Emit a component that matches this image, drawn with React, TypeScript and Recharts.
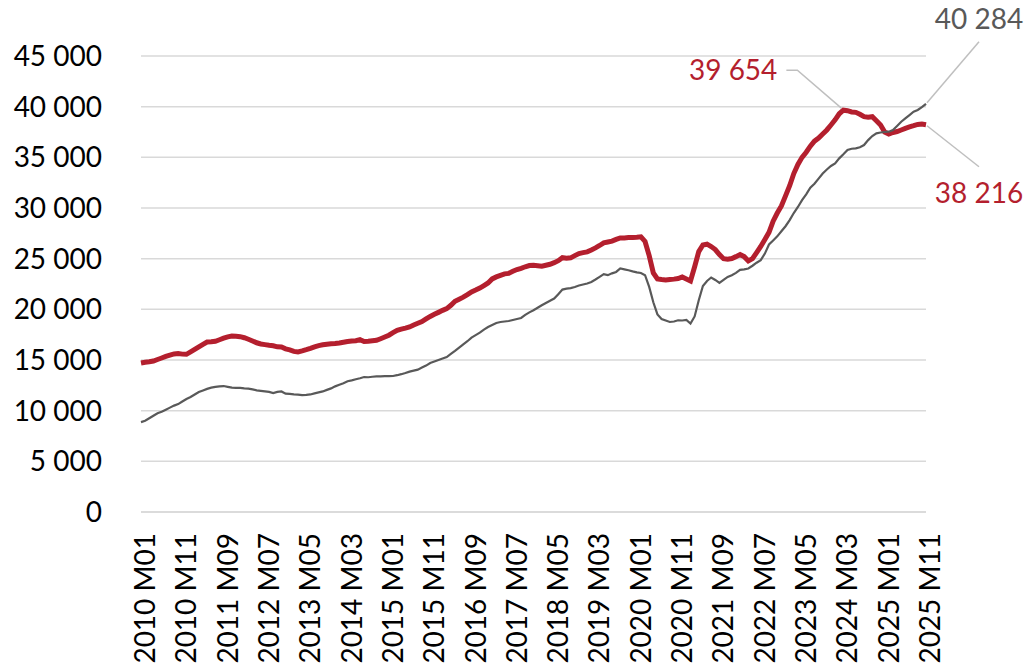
import { CartesianGrid, Line, LineChart, XAxis, YAxis } from "recharts";

// Monthly series, 2010 M01 .. 2025 M11 (191 points).
const START_YEAR = 2010;

// thick red series
const RED_SERIES = [
  // 2010
  14700, 14780, 14820, 14900, 15050, 15200, 15360, 15480, 15600, 15630, 15580, 15560,
  // 2011
  15800, 16050, 16300, 16550, 16780, 16800, 16850, 17000, 17150, 17280, 17370, 17350,
  // 2012
  17300, 17200, 17050, 16880, 16700, 16580, 16520, 16450, 16400, 16300, 16280, 16100,
  // 2013
  16000, 15850, 15790, 15900, 16020, 16150, 16300, 16420, 16500, 16560, 16600, 16620,
  // 2014
  16680, 16750, 16820, 16880, 16900, 17010, 16820, 16850, 16900, 16940, 17100, 17270,
  // 2015
  17450, 17700, 17930, 18050, 18150, 18260, 18450, 18620, 18790, 19050, 19300, 19510,
  // 2016
  19700, 19900, 20070, 20400, 20800, 21000, 21200, 21450, 21720, 21900, 22100, 22350,
  // 2017
  22600, 23000, 23200, 23350, 23500, 23550, 23750, 23930, 24050, 24200, 24320, 24350,
  // 2018
  24300, 24250, 24350, 24450, 24600, 24800, 25100, 25050, 25080, 25300, 25510, 25600,
  // 2019
  25670, 25850, 26060, 26300, 26560, 26650, 26730, 26900, 27050, 27050, 27090, 27100,
  // 2020
  27120, 27150, 26700, 25300, 23600, 23000, 22940, 22900, 22950, 22980, 23040, 23200,
  // 2021
  23000, 22800, 24200, 25700, 26350, 26430, 26200, 25900, 25400, 25000, 24950, 25020,
  // 2022
  25200, 25400, 25200, 24780, 25000, 25600, 26200, 26900, 27600, 28700, 29500, 30200,
  // 2023
  31200, 32200, 33400, 34300, 35000, 35500, 36100, 36600, 36900, 37300, 37700, 38190,
  // 2024
  38700, 39300, 39654, 39600, 39480, 39440, 39250, 39010, 38950, 39010, 38600, 38190,
  // 2025
  37500, 37300, 37450, 37550, 37700, 37860, 38000, 38120, 38250, 38290, 38216,
];

// thin gray series
const GRAY_SERIES = [
  // 2010
  8870, 9000, 9250, 9500, 9750, 9900, 10100, 10300, 10500, 10650, 10900, 11150,
  // 2011
  11350, 11600, 11840, 12000, 12150, 12270, 12350, 12400, 12430, 12350, 12270, 12250,
  // 2012
  12250, 12200, 12170, 12100, 12000, 11950, 11900, 11850, 11740, 11850, 11900, 11680,
  // 2013
  11650, 11600, 11580, 11540, 11550, 11600, 11700, 11800, 11900, 12050, 12200, 12400,
  // 2014
  12550, 12700, 12900, 12990, 13100, 13200, 13320, 13300, 13350, 13390, 13380, 13400,
  // 2015
  13400, 13420, 13500, 13600, 13710, 13850, 13950, 14050, 14250, 14450, 14700, 14850,
  // 2016
  15000, 15150, 15290, 15600, 15900, 16220, 16550, 16850, 17210, 17450, 17700, 18000,
  // 2017
  18250, 18450, 18650, 18750, 18800, 18850, 18950, 19050, 19150, 19450, 19700, 19910,
  // 2018
  20150, 20400, 20630, 20850, 21060, 21500, 21950, 22050, 22100, 22210, 22350, 22450,
  // 2019
  22550, 22700, 22940, 23200, 23470, 23370, 23550, 23690, 24030, 23950, 23860, 23750,
  // 2020
  23650, 23590, 23370, 22210, 20700, 19500, 19050, 18900, 18750, 18800, 18920, 18900,
  // 2021
  18950, 18590, 19300, 20900, 22300, 22800, 23140, 22900, 22600, 22900, 23200, 23370,
  // 2022
  23600, 23900, 23950, 24030, 24300, 24600, 24850, 25500, 26400, 26800, 27200, 27700,
  // 2023
  28200, 28800, 29500, 30100, 30780, 31350, 32000, 32400, 32900, 33410, 33800, 34150,
  // 2024
  34400, 34900, 35300, 35720, 35850, 35880, 36000, 36210, 36700, 37100, 37370, 37450,
  // 2025
  37500, 37530, 37690, 38100, 38510, 38850, 39170, 39500, 39670, 39950, 40284,
];

const Y_TICKS = [0, 5000, 10000, 15000, 20000, 25000, 30000, 35000, 40000, 45000];

const RED = "#b41f2e";
const GRAY = "#595959";
const LEADER = "#bfbfbf";
const FONT = "Lato, 'Open Sans', sans-serif";

const MONTHS = RED_SERIES.map(
  (_, i) => `${START_YEAR + Math.floor(i / 12)} M${String((i % 12) + 1).padStart(2, "0")}`,
);

const data = MONTHS.map((month, i) => ({
  month,
  red: RED_SERIES[i],
  gray: GRAY_SERIES[i],
}));

const PEAK_IDX = RED_SERIES.indexOf(Math.max(...RED_SERIES));
const LAST_IDX = RED_SERIES.length - 1;

// "45 000" style thousands separator
const fmt = (v: number) => v.toLocaleString("en-US").replace(/,/g, " ");

function MonthTick({ x, y, payload }: any) {
  return (
    <text
      x={x}
      y={y}
      transform={`rotate(-90, ${x}, ${y})`}
      textAnchor="end"
      dy="0.5em"
      fontSize={28}
      fontFamily={FONT}
      fill="#000"
    >
      {payload.value}
    </text>
  );
}

function RedNotes(props: any) {
  const { cx, cy, index } = props;
  if (index === PEAK_IDX) {
    return (
      <g key={`r-${index}`}>
        <polyline
          points={`${cx - 57},${cy - 40} ${cx - 46},${cy - 40} ${cx - 2},${cy - 2}`}
          fill="none"
          stroke={LEADER}
          strokeWidth={1.5}
        />
        <text x={cx - 66} y={cy - 30} textAnchor="end" fontSize={28} fontFamily={FONT} fill={RED}>
          {fmt(RED_SERIES[index])}
        </text>
      </g>
    );
  }
  if (index === LAST_IDX) {
    return (
      <g key={`r-${index}`}>
        <line x1={cx + 1} y1={cy + 1} x2={cx + 53} y2={cy + 42} stroke={LEADER} strokeWidth={1.5} />
        <text x={cx + 53} y={cy + 78} textAnchor="middle" fontSize={28} fontFamily={FONT} fill={RED}>
          {fmt(RED_SERIES[index])}
        </text>
      </g>
    );
  }
  return <g key={`r-${index}`} />;
}

function GrayNotes(props: any) {
  const { cx, cy, index } = props;
  if (index === LAST_IDX) {
    return (
      <g key={`g-${index}`}>
        <line x1={cx + 1} y1={cy - 1} x2={cx + 53} y2={cy - 62} stroke={LEADER} strokeWidth={1.5} />
        <text x={cx + 53} y={cy - 75} textAnchor="middle" fontSize={28} fontFamily={FONT} fill={GRAY}>
          {fmt(GRAY_SERIES[index])}
        </text>
      </g>
    );
  }
  return <g key={`g-${index}`} />;
}

export default function App() {
  return (
    <div style={{ width: 1025, height: 666, overflow: "hidden", fontFamily: FONT }}>
      <style>{"body { margin: 0; overflow: hidden; }"}</style>
      <LineChart
        width={1025}
        height={666}
        data={data}
        margin={{ top: 56, right: 99, bottom: 4, left: 0 }}
      >
        <CartesianGrid vertical={false} stroke="#d9d9d9" strokeWidth={1.5} />
        <XAxis
          dataKey="month"
          interval={9}
          height={150}
          tickLine={false}
          tickSize={0}
          tickMargin={21}
          axisLine={{ stroke: "#d9d9d9", strokeWidth: 1.5 }}
          tick={<MonthTick />}
        />
        <YAxis
          domain={[0, 45000]}
          ticks={Y_TICKS}
          width={141}
          axisLine={false}
          tickLine={false}
          tickSize={0}
          tickMargin={39}
          tickFormatter={fmt}
          tick={{ fontSize: 28, fontFamily: FONT, fill: "#000" }}
        />
        <Line
          dataKey="red"
          stroke={RED}
          strokeWidth={5}
          dot={RedNotes}
          activeDot={false}
          isAnimationActive={false}
        />
        <Line
          dataKey="gray"
          stroke={GRAY}
          strokeWidth={2.2}
          dot={GrayNotes}
          activeDot={false}
          isAnimationActive={false}
        />
      </LineChart>
    </div>
  );
}
